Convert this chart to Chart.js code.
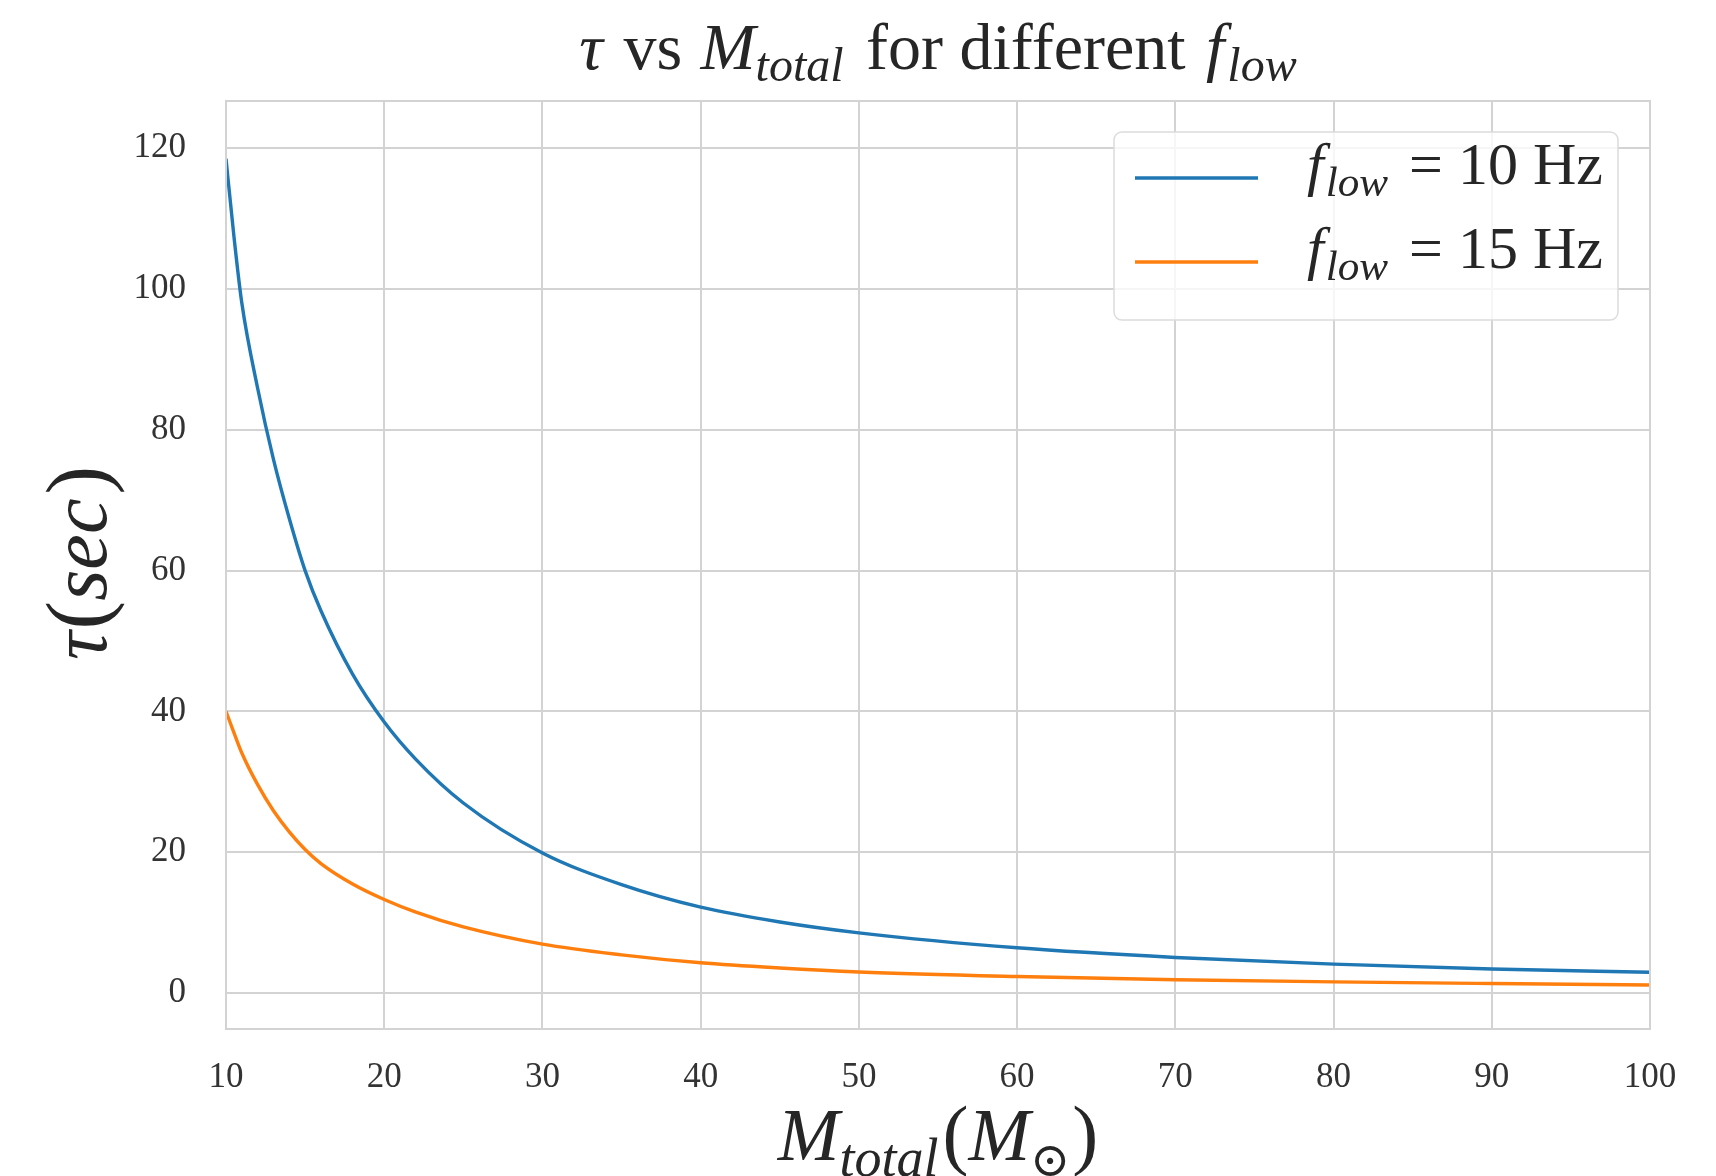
<!DOCTYPE html>
<html>
<head>
<meta charset="utf-8">
<script src="https://cdn.jsdelivr.net/npm/chart.js@4.4.1/dist/chart.umd.min.js"></script>
<style>
  html, body { margin: 0; padding: 0; background: #fff; }
  #wrap { width: 1716px; height: 1176px; }
</style>
</head>
<body>
<div id="wrap"><canvas id="chart" width="1716" height="1176"></canvas></div>
<script>
// --- data ---
const masses = [10, 10.5, 11, 12, 13, 14, 15, 16, 18, 20, 22, 25, 30, 35, 40, 45, 50, 60, 70, 80, 90, 100];
const tau10 = [118.5, 107.5, 98, 85.9, 75.8, 67.4, 60, 54.3, 45.3, 38.5, 33.2, 27.0, 19.9, 15.4, 12.2, 10.1, 8.56, 6.43, 5.06, 4.11, 3.42, 2.95];
const tau15 = [40, 37, 34.1, 29.6, 25.9, 22.9, 20.4, 18.4, 15.5, 13.3, 11.5, 9.4, 6.95, 5.43, 4.3, 3.56, 3.0, 2.35, 1.9, 1.6, 1.36, 1.15];
const xTicks = [10, 20, 30, 40, 50, 60, 70, 80, 90, 100];
const yTicks = [0, 20, 40, 60, 80, 100, 120];
const seriesNames = ['f_low = 10 Hz', 'f_low = 15 Hz'];
const seriesColors = ['#1f77b4', '#ff7f0e'];

const SERIF = '"Liberation Serif", "DejaVu Serif", serif';
const GRID = '#d3d3d3';

// rich text: list of segments {t, it, s (size), dy}
function richWidth(ctx, segs) {
    let w = 0;
    segs.forEach(sg => {
        ctx.font = (sg.it ? 'italic ' : '') + sg.s + 'px ' + SERIF;
        w += ctx.measureText(sg.t).width + (sg.gap || 0);
    });
    return w;
}
function drawRich(ctx, segs, x, y, align) {
    let cx = x;
    if (align === 'center') cx = x - richWidth(ctx, segs) / 2;
    ctx.textAlign = 'left';
    ctx.textBaseline = 'alphabetic';
    segs.forEach(sg => {
        ctx.font = (sg.it ? 'italic ' : '') + sg.s + 'px ' + SERIF;
        ctx.fillText(sg.t, cx, y + (sg.dy || 0));
        cx += ctx.measureText(sg.t).width + (sg.gap || 0);
    });
}
function labelSegs(name, size) {
    // "f_low = 10 Hz" -> italic f, subscript low, rest roman
    const rest = name.split('f_low')[1];
    return [
        { t: 'f', it: true, s: size, gap: 2 },
        { t: 'low', it: true, s: size * 0.72, dy: size * 0.2, gap: 6 },
        { t: rest, it: false, s: size }
    ];
}

const decorPlugin = {
    id: 'decor',
    afterDraw(chart) {
        const ctx = chart.ctx;
        const a = chart.chartArea;
        ctx.save();
        // top / right spines
        ctx.strokeStyle = GRID;
        ctx.lineWidth = 2;
        ctx.strokeRect(a.left, a.top, a.right - a.left, a.bottom - a.top);

        ctx.fillStyle = '#262626';
        // title
        drawRich(ctx, [
            { t: 'τ', it: true, s: 66, gap: 4 },
            { t: ' vs ', it: false, s: 66, gap: 2 },
            { t: 'M', it: true, s: 66 },
            { t: 'total', it: true, s: 48, dy: 12, gap: 6 },
            { t: ' for different ', it: false, s: 66, gap: 4 },
            { t: 'f', it: true, s: 66, gap: 3 },
            { t: 'low', it: true, s: 48, dy: 12 }
        ], (a.left + a.right) / 2, 69, 'center');

        // x axis title
        drawRich(ctx, [
            { t: 'M', it: true, s: 74 },
            { t: 'total', it: true, s: 54, dy: 16, gap: 4 },
            { t: '(', it: false, s: 78 },
            { t: 'M', it: true, s: 74 },
            { t: '⊙', it: false, s: 48, dy: 16, gap: 2 },
            { t: ')', it: false, s: 78 }
        ], (a.left + a.right) / 2, 1160, 'center');

        // y axis title
        ctx.save();
        ctx.translate(106, (a.top + a.bottom) / 2 - 2);
        ctx.rotate(-Math.PI / 2);
        drawRich(ctx, [
            { t: 'τ', it: true, s: 80, gap: 2 },
            { t: '(', it: false, s: 86 },
            { t: 'sec', it: true, s: 80, gap: 4 },
            { t: ')', it: false, s: 86 }
        ], 0, 0, 'center');
        ctx.restore();

        // legend
        const lx = 1114, ly = 132, lw = 504, lh = 188, r = 8;
        ctx.beginPath();
        ctx.roundRect(lx, ly, lw, lh, r);
        ctx.fillStyle = 'rgba(255,255,255,0.8)';
        ctx.fill();
        ctx.strokeStyle = '#dcdcdc';
        ctx.lineWidth = 1.5;
        ctx.stroke();
        chart.data.datasets.forEach((ds, i) => {
            const y = 178 + i * 84;
            ctx.strokeStyle = ds.borderColor;
            ctx.lineWidth = 3.4;
            ctx.beginPath();
            ctx.moveTo(1135, y);
            ctx.lineTo(1258, y);
            ctx.stroke();
            ctx.fillStyle = '#262626';
            drawRich(ctx, labelSegs(ds.label, 60), 1307, y + 6, 'left');
        });
        ctx.restore();
    }
};

const datasets = [tau10, tau15].map((vals, i) => ({
    label: seriesNames[i],
    data: masses.map((m, j) => ({ x: m, y: vals[j] })),
    borderColor: seriesColors[i],
    borderWidth: 3.4,
    pointRadius: 0,
    fill: false,
    cubicInterpolationMode: 'monotone'
}));

new Chart(document.getElementById('chart').getContext('2d'), {
    type: 'line',
    data: { datasets },
    options: {
        responsive: false,
        animation: false,
        layout: { padding: { top: 101, right: 66, left: 0, bottom: 0 } },
        plugins: { legend: { display: false }, title: { display: false }, tooltip: { enabled: false } },
        scales: {
            x: {
                type: 'linear',
                min: 10,
                max: 100,
                afterBuildTicks: (s) => { s.ticks = xTicks.map(v => ({ value: v })); },
                afterFit: (s) => { s.height = 147; },
                ticks: { color: '#333', font: { family: SERIF, size: 35 }, padding: 28, maxRotation: 0, callback: v => String(v) },
                grid: { color: GRID, lineWidth: 2, drawTicks: false },
                border: { color: GRID, width: 2 }
            },
            y: {
                type: 'linear',
                min: -5.1,
                max: 126.7,
                afterBuildTicks: (s) => { s.ticks = yTicks.map(v => ({ value: v })); },
                afterFit: (s) => { s.width = 226; },
                ticks: { color: '#333', font: { family: SERIF, size: 35 }, padding: 40, callback: v => String(v) },
                grid: { color: GRID, lineWidth: 2, drawTicks: false },
                border: { color: GRID, width: 2 }
            }
        }
    },
    plugins: [decorPlugin]
});
</script>
</body>
</html>
